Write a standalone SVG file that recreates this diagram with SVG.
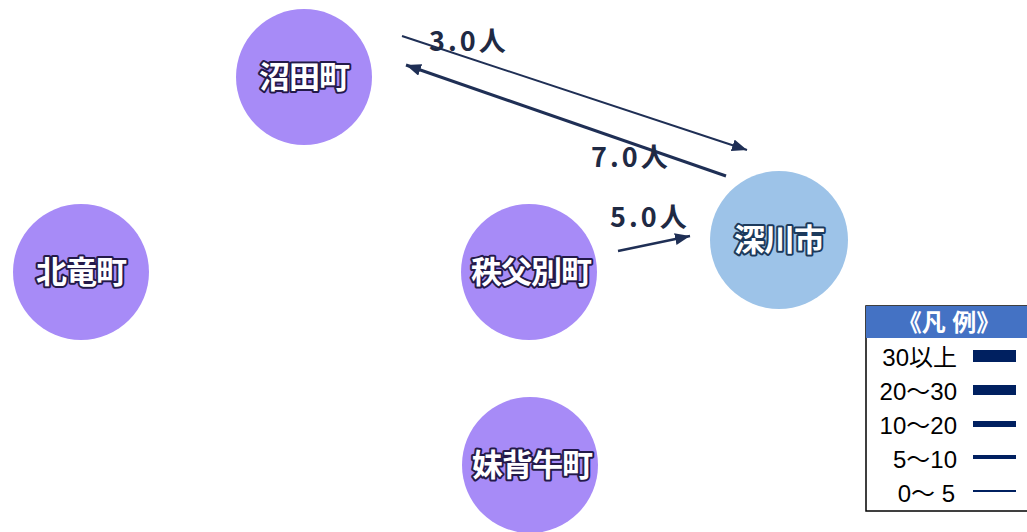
<svg xmlns="http://www.w3.org/2000/svg" width="1027" height="532" viewBox="0 0 1027 532">
<defs>
<style>
.town{fill:#A78BF7}
.city{fill:#9DC3E8}
.nt{font-family:"Noto Sans CJK JP","Noto Sans",sans-serif;font-weight:bold;font-size:31px;fill:#ffffff;stroke:#241a4a;stroke-width:4;paint-order:stroke;stroke-linejoin:round;text-anchor:middle;letter-spacing:-1px}
.ct{stroke:#1c3a5c}
.fl{fill:none;stroke:#1f2f55;stroke-linecap:butt}
.lbl{font-family:"Noto Sans CJK JP","Noto Sans",sans-serif;font-weight:bold;font-size:27px;fill:#1f2a44;letter-spacing:3px}
.lg{font-family:"Liberation Sans","Noto Sans CJK JP",sans-serif;font-size:24px;fill:#000000;text-anchor:end}
.lgl{stroke:#002060}
</style>
<marker id="ah" markerUnits="userSpaceOnUse" markerWidth="16" markerHeight="12" refX="15" refY="6" orient="auto">
<path d="M0,0 L15,6 L0,12 z" fill="#1f2f55"/>
</marker>
</defs>
<rect width="1027" height="532" fill="#ffffff"/>
<g id="connectors">
<line class="fl" x1="402" y1="36" x2="747" y2="150" stroke-width="2" marker-end="url(#ah)"/>
<line class="fl" x1="726" y1="176" x2="406" y2="65" stroke-width="3" marker-end="url(#ah)"/>
<line class="fl" x1="618" y1="251" x2="690" y2="236" stroke-width="2.5" marker-end="url(#ah)"/>
<text class="lbl" x="429" y="51">3.0人</text>
<text class="lbl" x="591" y="167">7.0人</text>
<text class="lbl" x="610" y="227">5.0人</text>
</g>
<g id="numata">
<circle class="town" cx="304" cy="77" r="68"/>
<text class="nt" x="304" y="88">沼田町</text>
</g>
<g id="hokuryu">
<circle class="town" cx="81" cy="272" r="68"/>
<text class="nt" x="81" y="283">北竜町</text>
</g>
<g id="chippubetsu">
<circle class="town" cx="529" cy="272" r="68"/>
<text class="nt" x="531" y="283">秩父別町</text>
</g>
<g id="moseushi">
<circle class="town" cx="530" cy="465" r="68"/>
<text class="nt" x="532" y="476">妹背牛町</text>
</g>
<g id="fukagawa">
<circle class="city" cx="779" cy="240" r="69"/>
<text class="nt ct" x="779" y="251">深川市</text>
</g>
<g id="legend">
<rect x="866" y="306" width="164" height="205" fill="#ffffff" stroke="#000000" stroke-width="1.5"/>
<rect x="866" y="306" width="164" height="32" fill="#4472C4"/>
<text x="949" y="331" font-family="Liberation Sans,'Noto Sans CJK JP',sans-serif" font-size="24" font-weight="bold" fill="#ffffff" text-anchor="middle">《凡 例》</text>
<text class="lg" x="957" y="366">30以上</text>
<text class="lg" x="957" y="400">20～30</text>
<text class="lg" x="957" y="434">10～20</text>
<text class="lg" x="957" y="468">5～10</text>
<text class="lg" x="955" y="502">0～ 5</text>
<line class="lgl" x1="973" y1="356" x2="1016" y2="356" stroke-width="12"/>
<line class="lgl" x1="973" y1="390" x2="1016" y2="390" stroke-width="10"/>
<line class="lgl" x1="973" y1="424" x2="1016" y2="424" stroke-width="6"/>
<line class="lgl" x1="973" y1="457" x2="1016" y2="457" stroke-width="4"/>
<line class="lgl" x1="973" y1="491" x2="1016" y2="491" stroke-width="2"/>
</g>
</svg>
